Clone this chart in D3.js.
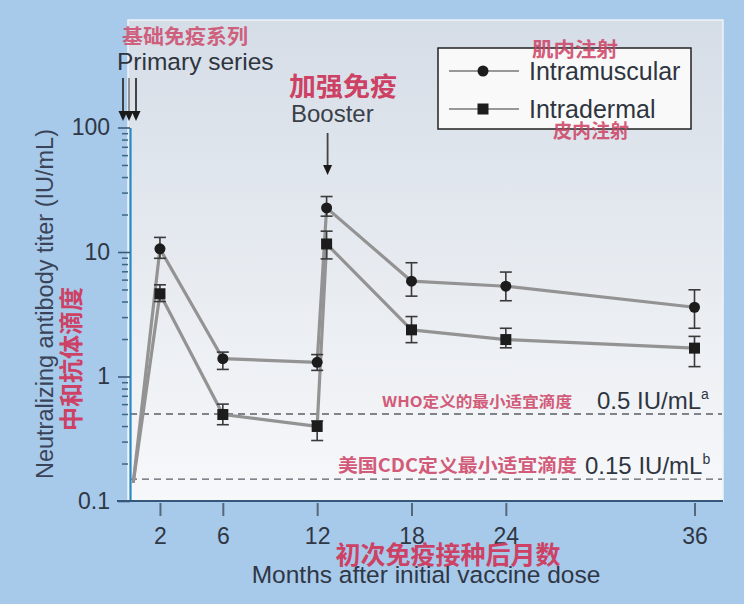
<!DOCTYPE html>
<html><head><meta charset="utf-8">
<script src="https://cdn.jsdelivr.net/npm/d3@7"></script>
<style>
html,body{margin:0;padding:0;background:#a7c9ea;}
svg{display:block;}
</style></head>
<body>
<svg id="c" width="744" height="604"></svg>
<script>
// ---- data ----
const months   = [2, 6, 12, 12.6, 18, 24, 36];
const imMean   = [10.6, 1.39, 1.30, 22.6, 5.83, 5.31, 3.60];
const imHigh   = [13.1, 1.57, 1.50, 27.9, 8.2, 6.9, 4.97];
const imLow    = [8.9, 1.14, 1.12, 19.4, 4.42, 4.06, 2.44];
const idMean   = [4.62, 0.495, 0.397, 11.6, 2.37, 1.98, 1.69];
const idHigh   = [5.45, 0.60, 0.44, 14.7, 3.03, 2.44, 2.10];
const idLow    = [4.0, 0.41, 0.306, 8.8, 1.87, 1.70, 1.20];
const startMonth = 0.3, startValue = 0.14;
const xTicks   = [2, 6, 12, 18, 24, 36];
const yTicks   = [0.1, 1, 10, 100];
const thresholds = [0.5, 0.15];
const thresholdLabels = ["0.5 IU/mL", "0.15 IU/mL"];
const thresholdSup = ["a", "b"];
const thresholdCn = ["WHO定义的最小适宜滴度", "美国CDC定义最小适宜滴度"];
const boosterMonth = 12.6;

// ---- layout ----
const svg = d3.select("#c");
const EN = "'Liberation Sans', Arial, Helvetica, sans-serif";
const CN = "'Noto Sans CJK SC', sans-serif";
const PINK = "#cd4164";
const plot = {left:128, right:723, top:20, bottom:501};
const x = d3.scaleLinear().domain([0, 36]).range([128.5, 694.5]);
const y = d3.scaleLog().domain([0.1, 100]).range([501, 127.5]);

const defs = svg.append("defs");
const g = defs.append("linearGradient").attr("id","bg").attr("x1",0).attr("y1",0).attr("x2",0).attr("y2",1);
g.append("stop").attr("offset","0%").attr("stop-color","#d5dde7");
g.append("stop").attr("offset","55%").attr("stop-color","#e8ecf1");
g.append("stop").attr("offset","100%").attr("stop-color","#f7f8fa");

svg.append("rect").attr("x",plot.left).attr("y",plot.top)
  .attr("width",plot.right-plot.left).attr("height",plot.bottom-plot.top)
  .attr("fill","url(#bg)").attr("stroke","#eef3f8").attr("stroke-width",1.5);

// threshold dashed lines
svg.selectAll("line.th").data(thresholds).enter().append("line")
  .attr("x1",plot.left+2).attr("x2",plot.right-1)
  .attr("y1",d=>y(d)).attr("y2",d=>y(d))
  .attr("stroke","#5a5f66").attr("stroke-width",1.3).attr("stroke-dasharray","7,5");

// threshold labels
thresholds.forEach((t,i)=>{
  const ty = y(t) - 13;
  const tx = i===0 ? 597 : 585;
  const txt = svg.append("text").attr("x",tx).attr("y",ty+8)
    .attr("font-family",EN).attr("font-size",24).attr("fill","#2f3540");
  txt.append("tspan").text(thresholdLabels[i]);
  txt.append("tspan").text(thresholdSup[i]).attr("font-size",14).attr("dy",-10);
  const cx0 = i===0 ? 382 : 338, cx1 = i===0 ? 572 : 577;
  svg.append("text").attr("x",cx0).attr("y",ty+6)
    .attr("font-family",CN).attr("font-weight","bold").attr("font-size",i===0?15:18)
    .attr("fill",PINK).attr("opacity",0.85)
    .attr("textLength",cx1-cx0).attr("lengthAdjust","spacingAndGlyphs")
    .text(thresholdCn[i]);
});

// y axis minor ticks
const minor = [];
[0.1,1,10].forEach(d=>{for(let k=2;k<=9;k++) minor.push(d*k);});
const yMinor = svg.append("g").attr("transform","translate(130,0)")
  .call(d3.axisLeft(y).tickValues(minor).tickFormat("").tickSize(7).tickSizeOuter(0));
yMinor.select(".domain").remove();
yMinor.selectAll("line").attr("stroke","#3b6585").attr("stroke-width",1.5).attr("x2",-2).attr("x1",-8);

const yAx = svg.append("g").attr("transform","translate(130,0)")
  .call(d3.axisLeft(y).tickValues(yTicks).tickFormat(d=>d===0.1?"0.1":d3.format("d")(d)).tickSize(12).tickSizeOuter(0).tickPadding(8));
yAx.select(".domain").attr("stroke","#2b89c2").attr("stroke-width",2.2);
yAx.selectAll("line").attr("stroke","#3b5a78").attr("stroke-width",1.6);
yAx.selectAll("text").attr("font-family",EN).attr("font-size",23).attr("fill","#2f3745");

// x axis
svg.append("line").attr("x1",117).attr("x2",plot.right).attr("y1",501).attr("y2",501)
  .attr("stroke","#35587a").attr("stroke-width",1.8);
const xAx = svg.append("g").attr("transform","translate(0,503)")
  .call(d3.axisBottom(x).tickValues(xTicks).tickSize(13).tickSizeOuter(0).tickPadding(12));
xAx.select(".domain").remove();
xAx.selectAll("line").attr("stroke","#55677a").attr("stroke-width",2);
xAx.selectAll("text").attr("font-family",EN).attr("font-size",23).attr("fill","#2f3745");

// axis titles
svg.append("text").attr("transform","translate(53,304) rotate(-90)").attr("text-anchor","middle")
  .attr("font-family",EN).attr("font-size",23.5).attr("fill","#3a4458")
  .text("Neutralizing antibody titer (IU/mL)");
svg.append("text").attr("transform","translate(80,359) rotate(-90)").attr("text-anchor","middle")
  .attr("font-family",CN).attr("font-weight","bold").attr("font-size",24).attr("fill",PINK)
  .text("中和抗体滴度");
svg.append("text").attr("x",448).attr("y",564).attr("text-anchor","middle")
  .attr("font-family",CN).attr("font-weight","bold").attr("font-size",25).attr("fill",PINK)
  .text("初次免疫接种后月数");
svg.append("text").attr("x",426).attr("y",583).attr("text-anchor","middle")
  .attr("font-family",EN).attr("font-size",24.5).attr("fill","#2f3745")
  .text("Months after initial vaccine dose");

// series lines
const line = d3.line().x(d=>x(d[0])).y(d=>y(d[1]));
function seriesPts(vals){ return [[startMonth,startValue]].concat(months.map((m,i)=>[m,vals[i]])); }
[imMean, idMean].forEach(vals=>{
  svg.append("path").datum(seriesPts(vals)).attr("d",line)
    .attr("fill","none").attr("stroke","#939393").attr("stroke-width",3.2).attr("stroke-linejoin","round");
});

// error bars
function errBars(lo,hi){
  const gg = svg.append("g").attr("stroke","#3a3a3a").attr("stroke-width",1.6);
  months.forEach((m,i)=>{
    gg.append("line").attr("x1",x(m)).attr("x2",x(m)).attr("y1",y(lo[i])).attr("y2",y(hi[i]));
    [lo[i],hi[i]].forEach(v=>gg.append("line").attr("x1",x(m)-6).attr("x2",x(m)+6).attr("y1",y(v)).attr("y2",y(v)));
  });
}
errBars(imLow,imHigh);
errBars(idLow,idHigh);

// markers
svg.selectAll("circle.im").data(months).enter().append("circle")
  .attr("cx",d=>x(d)).attr("cy",(d,i)=>y(imMean[i])).attr("r",5.5).attr("fill","#1c1c1c");
svg.selectAll("rect.id").data(months).enter().append("rect")
  .attr("x",d=>x(d)-5.5).attr("y",(d,i)=>y(idMean[i])-5.5).attr("width",11).attr("height",11).attr("fill","#1c1c1c");

// legend
svg.append("rect").attr("x",438).attr("y",48).attr("width",253).attr("height",81)
  .attr("fill","#f9f9f9").attr("stroke","#222").attr("stroke-width",1.5);
[[71,"Intramuscular"],[109,"Intradermal"]].forEach(([ly,lab],i)=>{
  svg.append("line").attr("x1",449).attr("x2",519).attr("y1",ly).attr("y2",ly).attr("stroke","#777").attr("stroke-width",1.6);
  if(i===0) svg.append("circle").attr("cx",483).attr("cy",ly).attr("r",5.5).attr("fill","#1c1c1c");
  else svg.append("rect").attr("x",477.5).attr("y",ly-5.5).attr("width",11).attr("height",11).attr("fill","#1c1c1c");
  svg.append("text").attr("x",529).attr("y",ly+9).attr("font-family",EN).attr("font-size",25).attr("fill","#2f3540").text(lab);
});
svg.append("text").attr("x",532).attr("y",57).attr("font-family",CN).attr("font-weight","bold").attr("font-size",20)
  .attr("fill",PINK).attr("opacity",0.85).attr("textLength",86).attr("lengthAdjust","spacingAndGlyphs").text("肌内注射");
svg.append("text").attr("x",553).attr("y",138).attr("font-family",CN).attr("font-weight","bold").attr("font-size",19)
  .attr("fill",PINK).attr("opacity",0.85).attr("textLength",76).attr("lengthAdjust","spacingAndGlyphs").text("皮内注射");

// annotations
svg.append("text").attr("x",122).attr("y",44).attr("font-family",CN).attr("font-weight","bold").attr("font-size",20)
  .attr("fill",PINK).attr("opacity",0.8).attr("textLength",126).attr("lengthAdjust","spacingAndGlyphs").text("基础免疫系列");
svg.append("text").attr("x",117).attr("y",70).attr("font-family",EN).attr("font-size",24.5).attr("fill","#2f3540").text("Primary series");
svg.append("text").attr("x",289).attr("y",96).attr("font-family",CN).attr("font-weight","bold").attr("font-size",26)
  .attr("fill",PINK).attr("textLength",108).attr("lengthAdjust","spacingAndGlyphs").text("加强免疫");
svg.append("text").attr("x",291).attr("y",122).attr("font-family",EN).attr("font-size",24).attr("fill","#3a3f48").text("Booster");

function arrow(ax, y0, y1, col){
  svg.append("line").attr("x1",ax).attr("x2",ax).attr("y1",y0).attr("y2",y1-6).attr("stroke",col).attr("stroke-width",1.8);
  svg.append("path").attr("d",`M${ax-4.5},${y1-10}L${ax+4.5},${y1-10}L${ax},${y1}Z`).attr("fill","#1a1a1a");
}
[123,129,136].forEach((ax,i)=>arrow(ax,78,121,i===1?"#888":"#333"));
arrow(x(boosterMonth)+1,133,175,"#444");
</script>
</body></html>
